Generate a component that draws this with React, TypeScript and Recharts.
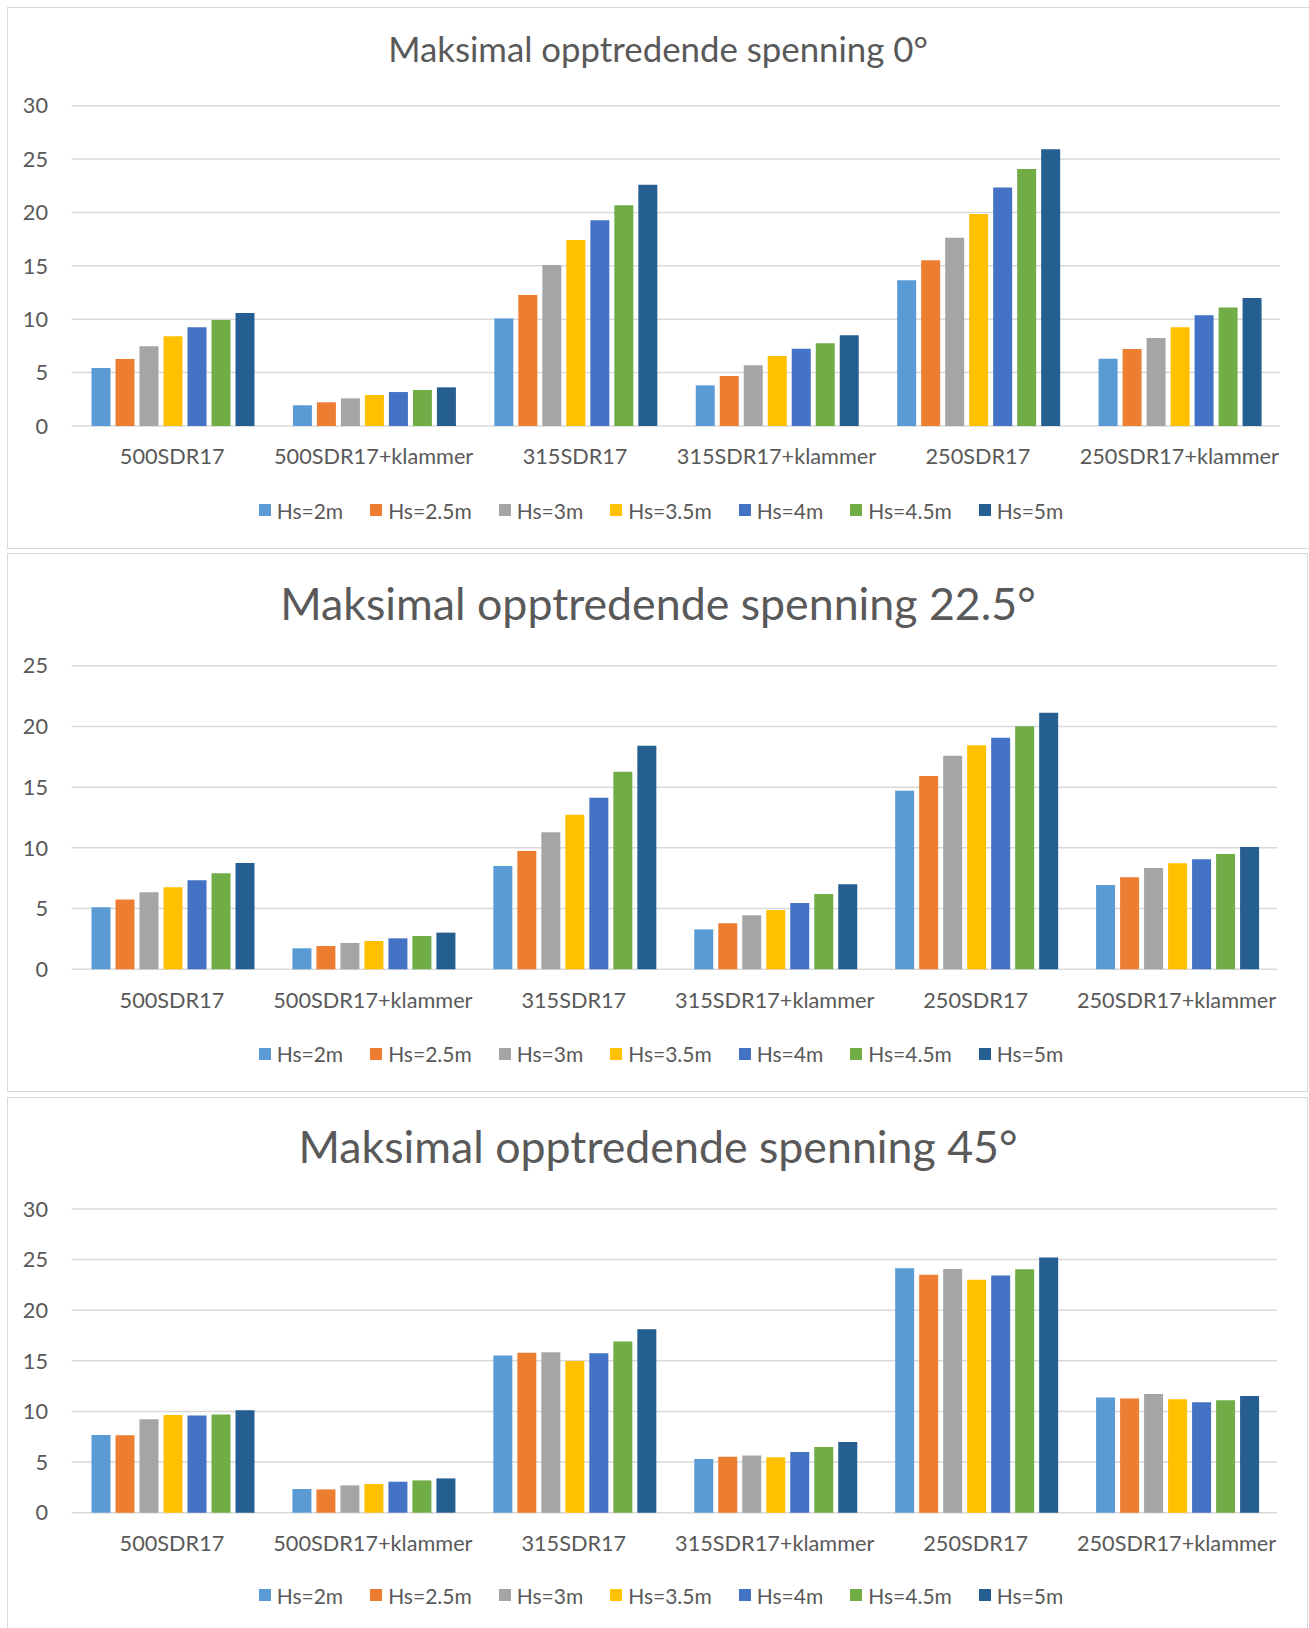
import { BarChart, Bar, XAxis, YAxis, CartesianGrid } from "recharts";

const categories = [
  "500SDR17",
  "500SDR17+klammer",
  "315SDR17",
  "315SDR17+klammer",
  "250SDR17",
  "250SDR17+klammer",
];

const seriesNames = ["Hs=2m", "Hs=2.5m", "Hs=3m", "Hs=3.5m", "Hs=4m", "Hs=4.5m", "Hs=5m"];
const seriesColors = ["#5B9BD5", "#ED7D31", "#A5A5A5", "#FFC000", "#4472C4", "#70AD47", "#255E91"];

// 0 grader
const deg0Hs2 = [5.43, 1.94, 10.08, 3.81, 13.64, 6.31];
const deg0Hs25 = [6.28, 2.22, 12.27, 4.68, 15.52, 7.21];
const deg0Hs3 = [7.46, 2.59, 15.08, 5.68, 17.64, 8.24];
const deg0Hs35 = [8.4, 2.9, 17.42, 6.56, 19.86, 9.24];
const deg0Hs4 = [9.24, 3.18, 19.26, 7.24, 22.35, 10.37];
const deg0Hs45 = [9.93, 3.37, 20.67, 7.74, 24.07, 11.11];
const deg0Hs5 = [10.58, 3.62, 22.6, 8.49, 25.91, 11.99];

// 22.5 grader
const deg22Hs2 = [5.1, 1.73, 8.51, 3.29, 14.71, 6.94];
const deg22Hs25 = [5.74, 1.92, 9.74, 3.79, 15.92, 7.57];
const deg22Hs3 = [6.34, 2.17, 11.28, 4.45, 17.59, 8.34];
const deg22Hs35 = [6.75, 2.33, 12.73, 4.88, 18.44, 8.73];
const deg22Hs4 = [7.33, 2.55, 14.13, 5.46, 19.07, 9.06];
const deg22Hs45 = [7.9, 2.74, 16.27, 6.2, 20.01, 9.5];
const deg22Hs5 = [8.75, 3.02, 18.41, 7.0, 21.13, 10.07];

// 45 grader
const deg45Hs2 = [7.67, 2.34, 15.54, 5.3, 24.14, 11.39];
const deg45Hs25 = [7.64, 2.3, 15.81, 5.53, 23.51, 11.29];
const deg45Hs3 = [9.22, 2.7, 15.84, 5.66, 24.07, 11.72];
const deg45Hs35 = [9.65, 2.83, 14.98, 5.47, 23.02, 11.2];
const deg45Hs4 = [9.61, 3.06, 15.74, 5.99, 23.44, 10.9];
const deg45Hs45 = [9.71, 3.19, 16.92, 6.49, 24.04, 11.1];
const deg45Hs5 = [10.11, 3.39, 18.11, 6.98, 25.22, 11.52];

const ticks30 = [0, 5, 10, 15, 20, 25, 30];
const ticks25 = [0, 5, 10, 15, 20, 25];

const textColor = "#595959";
const font = "Lato, 'Open Sans', sans-serif";

type PanelProps = {
  title: string;
  titleSize: number;
  series: number[][];
  ticks: number[];
  boxTop: number;
  boxBottom: number;
  boxRight: number;
  titleY: number;
  plotTop: number;
  plotBottom: number;
  plotRight: number;
  legendY: number;
};

function Panel(p: PanelProps) {
  const data = categories.map((name, i) => {
    const row: Record<string, string | number> = { name };
    seriesNames.forEach((s, k) => (row[s] = p.series[k][i]));
    return row;
  });
  const h = p.boxBottom - p.boxTop;
  const xAxisH = 30;
  const legendFs = 21;
  const tickFs = 21.7;

  return (
    <>
      <div
        style={{
          position: "absolute",
          left: 7,
          top: p.boxTop,
          width: p.boxRight - 7,
          height: h,
          border: "1.5px solid #d9d9d9",
          boxSizing: "border-box",
        }}
      />
      <div
        style={{
          position: "absolute",
          left: 0,
          width: 1316,
          top: p.titleY - 0.527 * p.titleSize,
          fontSize: p.titleSize,
          lineHeight: 1,
          textAlign: "center",
          color: textColor,
          whiteSpace: "nowrap",
        }}
      >
        {p.title}
      </div>
      <div style={{ position: "absolute", left: 0, top: p.boxTop }}>
        <BarChart
          width={1309}
          height={h}
          data={data}
          margin={{
            top: p.plotTop - p.boxTop,
            right: 1309 - p.plotRight,
            left: 0,
            bottom: p.boxBottom - p.plotBottom - xAxisH,
          }}
          barCategoryGap={20}
          barGap={5}
        >
          <CartesianGrid vertical={false} stroke="#d9d9d9" strokeWidth={1.5} />
          <XAxis
            dataKey="name"
            axisLine={false}
            tickLine={false}
            tickSize={0}
            tickMargin={23}
            interval={0}
            height={xAxisH}
            tick={{ fill: textColor, fontSize: tickFs, fontFamily: font }}
          />
          <YAxis
            width={71.5}
            domain={[0, p.ticks[p.ticks.length - 1]]}
            ticks={p.ticks}
            axisLine={false}
            tickLine={false}
            tickSize={0}
            tickMargin={23.5}
            tick={{ fill: textColor, fontSize: tickFs, fontFamily: font }}
          />
          {seriesNames.map((s, k) => (
            <Bar key={s} dataKey={s} fill={seriesColors[k]} isAnimationActive={false} />
          ))}
        </BarChart>
      </div>
      <div
        style={{
          position: "absolute",
          left: 0,
          width: 1322,
          top: p.legendY - 0.527 * legendFs,
          display: "flex",
          justifyContent: "center",
          fontSize: legendFs,
          lineHeight: 1,
          color: textColor,
        }}
      >
        {seriesNames.map((s, k) => (
          <div
            key={s}
            style={{ display: "flex", alignItems: "center", marginRight: k < seriesNames.length - 1 ? 27 : 0 }}
          >
            <span style={{ width: 12, height: 12, background: seriesColors[k], marginRight: 6 }} />
            <span>{s}</span>
          </div>
        ))}
      </div>
    </>
  );
}

export default function App() {
  return (
    <div
      style={{
        position: "absolute",
        left: 0,
        top: 0,
        width: 1309,
        height: 1628,
        overflow: "hidden",
        background: "#fff",
        fontFamily: font,
      }}
    >
      <Panel
        title="Maksimal opptredende spenning 0°"
        titleSize={34.8}
        series={[deg0Hs2, deg0Hs25, deg0Hs3, deg0Hs35, deg0Hs4, deg0Hs45, deg0Hs5]}
        ticks={ticks30}
        boxTop={7}
        boxBottom={549}
        boxRight={1310}
        titleY={50.5}
        plotTop={105.7}
        plotBottom={426}
        plotRight={1280}
        legendY={511}
      />
      <Panel
        title="Maksimal opptredende spenning 22.5°"
        titleSize={44.7}
        series={[deg22Hs2, deg22Hs25, deg22Hs3, deg22Hs35, deg22Hs4, deg22Hs45, deg22Hs5]}
        ticks={ticks25}
        boxTop={553}
        boxBottom={1092}
        boxRight={1308}
        titleY={605}
        plotTop={665.7}
        plotBottom={969.3}
        plotRight={1277}
        legendY={1054.5}
      />
      <Panel
        title="Maksimal opptredende spenning 45°"
        titleSize={44.7}
        series={[deg45Hs2, deg45Hs25, deg45Hs3, deg45Hs35, deg45Hs4, deg45Hs45, deg45Hs5]}
        ticks={ticks30}
        boxTop={1097}
        boxBottom={1640}
        boxRight={1308}
        titleY={1148}
        plotTop={1209}
        plotBottom={1512.7}
        plotRight={1277}
        legendY={1596}
      />
    </div>
  );
}
